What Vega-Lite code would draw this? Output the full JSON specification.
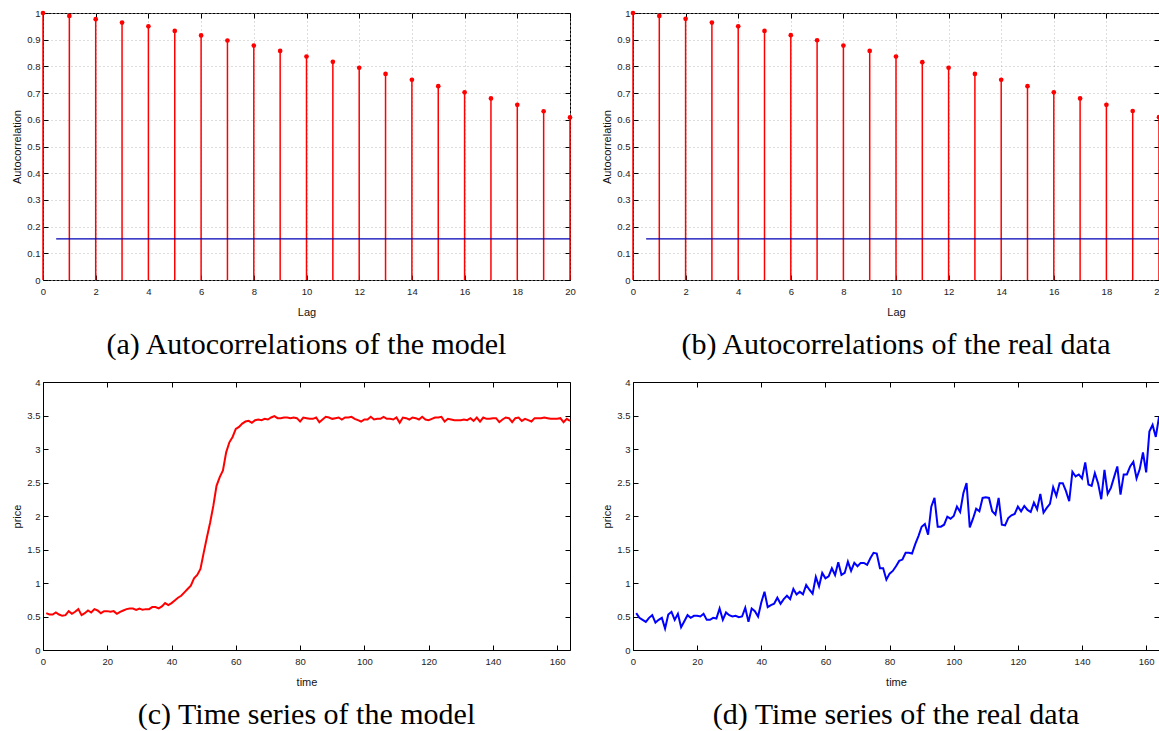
{
  "$schema": "https://vega.github.io/schema/vega-lite/v6.json",
  "background": "white",
  "padding": {"left": 11, "top": 7, "right": 0, "bottom": 0},
  "columns": 2,
  "spacing": {"row": 102, "column": 63},
  "bounds": "flush",
  "config": {
    "view": {"stroke": "black", "strokeWidth": 1},
    "axis": {
      "domain": false,
      "grid": false,
      "tickColor": "black",
      "tickSize": -5,
      "labelFont": "Liberation Sans",
      "labelFontSize": 9.5,
      "labelColor": "#222",
      "labelFlush": false,
      "labelOverlap": false,
      "titleFont": "Liberation Sans",
      "titleFontSize": 11,
      "titleFontWeight": "normal",
      "titleColor": "#111",
      "gridColor": "#bbbbbb",
      "gridDash": [1, 3]
    },
    "axisX": {"labelPadding": 11, "titlePadding": 11},
    "axisY": {"labelPadding": 8, "titlePadding": 4},
    "title": {"font": "Liberation Serif", "fontSize": 30, "fontWeight": "normal", "color": "#000", "orient": "bottom", "anchor": "middle", "offset": 12}
  },
  "datasets": {
    "acf_model": [
      {"lag": 0, "acf": 1.0}, {"lag": 1, "acf": 0.989}, {"lag": 2, "acf": 0.977}, {"lag": 3, "acf": 0.964},
      {"lag": 4, "acf": 0.950}, {"lag": 5, "acf": 0.933}, {"lag": 6, "acf": 0.916}, {"lag": 7, "acf": 0.897},
      {"lag": 8, "acf": 0.878}, {"lag": 9, "acf": 0.858}, {"lag": 10, "acf": 0.837}, {"lag": 11, "acf": 0.817},
      {"lag": 12, "acf": 0.795}, {"lag": 13, "acf": 0.772}, {"lag": 14, "acf": 0.750}, {"lag": 15, "acf": 0.726},
      {"lag": 16, "acf": 0.703}, {"lag": 17, "acf": 0.680}, {"lag": 18, "acf": 0.656}, {"lag": 19, "acf": 0.632},
      {"lag": 20, "acf": 0.609}
    ],
    "acf_real": [
      {"lag": 0, "acf": 1.0}, {"lag": 1, "acf": 0.989}, {"lag": 2, "acf": 0.978}, {"lag": 3, "acf": 0.964},
      {"lag": 4, "acf": 0.950}, {"lag": 5, "acf": 0.933}, {"lag": 6, "acf": 0.917}, {"lag": 7, "acf": 0.898},
      {"lag": 8, "acf": 0.878}, {"lag": 9, "acf": 0.858}, {"lag": 10, "acf": 0.837}, {"lag": 11, "acf": 0.816},
      {"lag": 12, "acf": 0.795}, {"lag": 13, "acf": 0.772}, {"lag": 14, "acf": 0.750}, {"lag": 15, "acf": 0.726},
      {"lag": 16, "acf": 0.703}, {"lag": 17, "acf": 0.680}, {"lag": 18, "acf": 0.656}, {"lag": 19, "acf": 0.633},
      {"lag": 20, "acf": 0.610}
    ],
    "bound": [{"from": 0.5, "to": 20, "level": 0.154}],
    "ts_model": [
      {"t":1,"p":0.55},{"t":2,"p":0.53},{"t":3,"p":0.53},{"t":4,"p":0.56},{"t":5,"p":0.53},{"t":6,"p":0.51},{"t":7,"p":0.52},{"t":8,"p":0.58},{"t":9,"p":0.54},{"t":10,"p":0.57},
      {"t":11,"p":0.61},{"t":12,"p":0.52},{"t":13,"p":0.55},{"t":14,"p":0.59},{"t":15,"p":0.56},{"t":16,"p":0.61},{"t":17,"p":0.59},{"t":18,"p":0.55},{"t":19,"p":0.58},{"t":20,"p":0.58},
      {"t":21,"p":0.57},{"t":22,"p":0.58},{"t":23,"p":0.54},{"t":24,"p":0.57},{"t":25,"p":0.59},{"t":26,"p":0.61},{"t":27,"p":0.62},{"t":28,"p":0.62},{"t":29,"p":0.60},{"t":30,"p":0.62},
      {"t":31,"p":0.60},{"t":32,"p":0.61},{"t":33,"p":0.61},{"t":34,"p":0.64},{"t":35,"p":0.64},{"t":36,"p":0.62},{"t":37,"p":0.65},{"t":38,"p":0.70},{"t":39,"p":0.67},{"t":40,"p":0.70},
      {"t":41,"p":0.74},{"t":42,"p":0.78},{"t":43,"p":0.81},{"t":44,"p":0.86},{"t":45,"p":0.91},{"t":46,"p":0.96},{"t":47,"p":1.07},{"t":48,"p":1.12},{"t":49,"p":1.21},{"t":50,"p":1.45},
      {"t":51,"p":1.68},{"t":52,"p":1.90},{"t":53,"p":2.15},{"t":54,"p":2.45},{"t":55,"p":2.58},{"t":56,"p":2.68},{"t":57,"p":2.95},{"t":58,"p":3.10},{"t":59,"p":3.18},{"t":60,"p":3.30},
      {"t":61,"p":3.33},{"t":62,"p":3.38},{"t":63,"p":3.41},{"t":64,"p":3.42},{"t":65,"p":3.39},{"t":66,"p":3.43},{"t":67,"p":3.44},{"t":68,"p":3.43},{"t":69,"p":3.45},{"t":70,"p":3.44},
      {"t":71,"p":3.47},{"t":72,"p":3.49},{"t":73,"p":3.46},{"t":74,"p":3.46},{"t":75,"p":3.47},{"t":76,"p":3.47},{"t":77,"p":3.46},{"t":78,"p":3.47},{"t":79,"p":3.46},{"t":80,"p":3.41},
      {"t":81,"p":3.47},{"t":82,"p":3.46},{"t":83,"p":3.45},{"t":84,"p":3.45},{"t":85,"p":3.47},{"t":86,"p":3.40},{"t":87,"p":3.44},{"t":88,"p":3.48},{"t":89,"p":3.47},{"t":90,"p":3.45},
      {"t":91,"p":3.46},{"t":92,"p":3.47},{"t":93,"p":3.44},{"t":94,"p":3.47},{"t":95,"p":3.47},{"t":96,"p":3.48},{"t":97,"p":3.45},{"t":98,"p":3.43},{"t":99,"p":3.41},{"t":100,"p":3.44},
      {"t":101,"p":3.44},{"t":102,"p":3.48},{"t":103,"p":3.44},{"t":104,"p":3.45},{"t":105,"p":3.45},{"t":106,"p":3.48},{"t":107,"p":3.45},{"t":108,"p":3.45},{"t":109,"p":3.44},{"t":110,"p":3.47},
      {"t":111,"p":3.39},{"t":112,"p":3.47},{"t":113,"p":3.46},{"t":114,"p":3.44},{"t":115,"p":3.47},{"t":116,"p":3.46},{"t":117,"p":3.44},{"t":118,"p":3.48},{"t":119,"p":3.44},{"t":120,"p":3.43},
      {"t":121,"p":3.45},{"t":122,"p":3.47},{"t":123,"p":3.47},{"t":124,"p":3.48},{"t":125,"p":3.41},{"t":126,"p":3.45},{"t":127,"p":3.44},{"t":128,"p":3.43},{"t":129,"p":3.43},{"t":130,"p":3.43},
      {"t":131,"p":3.44},{"t":132,"p":3.43},{"t":133,"p":3.46},{"t":134,"p":3.42},{"t":135,"p":3.47},{"t":136,"p":3.41},{"t":137,"p":3.47},{"t":138,"p":3.45},{"t":139,"p":3.45},{"t":140,"p":3.46},
      {"t":141,"p":3.46},{"t":142,"p":3.40},{"t":143,"p":3.44},{"t":144,"p":3.47},{"t":145,"p":3.46},{"t":146,"p":3.40},{"t":147,"p":3.46},{"t":148,"p":3.47},{"t":149,"p":3.42},{"t":150,"p":3.45},
      {"t":151,"p":3.43},{"t":152,"p":3.41},{"t":153,"p":3.46},{"t":154,"p":3.46},{"t":155,"p":3.46},{"t":156,"p":3.47},{"t":157,"p":3.46},{"t":158,"p":3.45},{"t":159,"p":3.45},{"t":160,"p":3.45},
      {"t":161,"p":3.46},{"t":162,"p":3.40},{"t":163,"p":3.45},{"t":164,"p":3.42}
    ],
    "ts_real": [
      {"t":1,"p":0.55},{"t":2,"p":0.48},{"t":3,"p":0.45},{"t":4,"p":0.42},{"t":5,"p":0.48},{"t":6,"p":0.52},{"t":7,"p":0.41},{"t":8,"p":0.45},{"t":9,"p":0.48},{"t":10,"p":0.32},
      {"t":11,"p":0.53},{"t":12,"p":0.57},{"t":13,"p":0.45},{"t":14,"p":0.54},{"t":15,"p":0.34},{"t":16,"p":0.43},{"t":17,"p":0.52},{"t":18,"p":0.48},{"t":19,"p":0.51},{"t":20,"p":0.51},
      {"t":21,"p":0.50},{"t":22,"p":0.54},{"t":23,"p":0.45},{"t":24,"p":0.45},{"t":25,"p":0.48},{"t":26,"p":0.47},{"t":27,"p":0.62},{"t":28,"p":0.45},{"t":29,"p":0.56},{"t":30,"p":0.52},
      {"t":31,"p":0.50},{"t":32,"p":0.51},{"t":33,"p":0.49},{"t":34,"p":0.50},{"t":35,"p":0.63},{"t":36,"p":0.42},{"t":37,"p":0.62},{"t":38,"p":0.58},{"t":39,"p":0.50},{"t":40,"p":0.71},
      {"t":41,"p":0.87},{"t":42,"p":0.64},{"t":43,"p":0.67},{"t":44,"p":0.69},{"t":45,"p":0.78},{"t":46,"p":0.69},{"t":47,"p":0.76},{"t":48,"p":0.81},{"t":49,"p":0.76},{"t":50,"p":0.91},
      {"t":51,"p":0.83},{"t":52,"p":0.87},{"t":53,"p":0.83},{"t":54,"p":0.97},{"t":55,"p":0.90},{"t":56,"p":0.84},{"t":57,"p":1.09},{"t":58,"p":0.95},{"t":59,"p":1.15},{"t":60,"p":1.07},
      {"t":61,"p":1.10},{"t":62,"p":1.22},{"t":63,"p":1.12},{"t":64,"p":1.31},{"t":65,"p":1.12},{"t":66,"p":1.15},{"t":67,"p":1.32},{"t":68,"p":1.18},{"t":69,"p":1.30},{"t":70,"p":1.25},
      {"t":71,"p":1.30},{"t":72,"p":1.30},{"t":73,"p":1.27},{"t":74,"p":1.37},{"t":75,"p":1.45},{"t":76,"p":1.44},{"t":77,"p":1.22},{"t":78,"p":1.22},{"t":79,"p":1.05},{"t":80,"p":1.14},
      {"t":81,"p":1.18},{"t":82,"p":1.25},{"t":83,"p":1.33},{"t":84,"p":1.35},{"t":85,"p":1.45},{"t":86,"p":1.45},{"t":87,"p":1.44},{"t":88,"p":1.58},{"t":89,"p":1.70},{"t":90,"p":1.84},
      {"t":91,"p":1.88},{"t":92,"p":1.72},{"t":93,"p":2.14},{"t":94,"p":2.27},{"t":95,"p":1.84},{"t":96,"p":1.84},{"t":97,"p":1.87},{"t":98,"p":1.99},{"t":99,"p":1.96},{"t":100,"p":2.00},
      {"t":101,"p":2.14},{"t":102,"p":2.06},{"t":103,"p":2.34},{"t":104,"p":2.49},{"t":105,"p":1.83},{"t":106,"p":1.96},{"t":107,"p":2.11},{"t":108,"p":2.07},{"t":109,"p":2.27},{"t":110,"p":2.28},
      {"t":111,"p":2.27},{"t":112,"p":2.07},{"t":113,"p":2.02},{"t":114,"p":2.27},{"t":115,"p":1.87},{"t":116,"p":1.86},{"t":117,"p":1.97},{"t":118,"p":2.01},{"t":119,"p":2.03},{"t":120,"p":2.14},
      {"t":121,"p":2.07},{"t":122,"p":2.15},{"t":123,"p":2.09},{"t":124,"p":2.06},{"t":125,"p":2.20},{"t":126,"p":2.10},{"t":127,"p":2.33},{"t":128,"p":2.05},{"t":129,"p":2.12},{"t":130,"p":2.18},
      {"t":131,"p":2.43},{"t":132,"p":2.30},{"t":133,"p":2.49},{"t":134,"p":2.49},{"t":135,"p":2.37},{"t":136,"p":2.22},{"t":137,"p":2.66},{"t":138,"p":2.59},{"t":139,"p":2.62},{"t":140,"p":2.56},
      {"t":141,"p":2.80},{"t":142,"p":2.47},{"t":143,"p":2.45},{"t":144,"p":2.64},{"t":145,"p":2.49},{"t":146,"p":2.25},{"t":147,"p":2.69},{"t":148,"p":2.33},{"t":149,"p":2.42},{"t":150,"p":2.58},
      {"t":151,"p":2.74},{"t":152,"p":2.32},{"t":153,"p":2.62},{"t":154,"p":2.62},{"t":155,"p":2.74},{"t":156,"p":2.81},{"t":157,"p":2.56},{"t":158,"p":2.70},{"t":159,"p":2.95},{"t":160,"p":2.65},
      {"t":161,"p":3.26},{"t":162,"p":3.36},{"t":163,"p":3.18},{"t":164,"p":3.48}
    ]
  },
  "concat": [
    {
      "width": 527, "height": 267,
      "title": {"text": "(a) Autocorrelations of the model"},
      "data": {"name": "acf_model"},
      "layer": [
        {"mark": {"type": "rule", "color": "#ff0000", "strokeWidth": 1.5},
         "encoding": {
           "x": {"field": "lag", "type": "quantitative", "scale": {"domain": [0, 20], "nice": false}, "axis": {"values": [0,2,4,6,8,10,12,14,16,18,20], "grid": true, "title": "Lag"}},
           "y": {"field": "acf", "type": "quantitative", "scale": {"domain": [0, 1], "nice": false}, "axis": {"values": [0,0.1,0.2,0.3,0.4,0.5,0.6,0.7,0.8,0.9,1], "format": "~g", "grid": true, "title": "Autocorrelation"}},
           "y2": {"datum": 0}}},
        {"mark": {"type": "point", "filled": true, "color": "#ff0000", "size": 22, "opacity": 1},
         "encoding": {"x": {"field": "lag", "type": "quantitative", "axis": null}, "y": {"field": "acf", "type": "quantitative", "axis": null}}},
        {"data": {"name": "bound"}, "mark": {"type": "rule", "color": "#0000b4", "strokeWidth": 1.1},
         "encoding": {"x": {"field": "from", "type": "quantitative", "axis": null}, "x2": {"field": "to"}, "y": {"field": "level", "type": "quantitative", "axis": null}}},
        {"mark": {"type": "point", "opacity": 0},
         "encoding": {
           "x": {"field": "lag", "type": "quantitative", "axis": {"orient": "top", "values": [0,2,4,6,8,10,12,14,16,18,20], "labels": false, "title": null}},
           "y": {"field": "acf", "type": "quantitative", "axis": {"orient": "right", "values": [0,0.1,0.2,0.3,0.4,0.5,0.6,0.7,0.8,0.9,1], "labels": false, "title": null}}}}
      ],
      "resolve": {"axis": {"x": "independent", "y": "independent"}}
    },
    {
      "width": 526, "height": 267,
      "title": {"text": "(b) Autocorrelations of the real data"},
      "data": {"name": "acf_real"},
      "layer": [
        {"mark": {"type": "rule", "color": "#ff0000", "strokeWidth": 1.5},
         "encoding": {
           "x": {"field": "lag", "type": "quantitative", "scale": {"domain": [0, 20], "nice": false}, "axis": {"values": [0,2,4,6,8,10,12,14,16,18,20], "grid": true, "title": "Lag"}},
           "y": {"field": "acf", "type": "quantitative", "scale": {"domain": [0, 1], "nice": false}, "axis": {"values": [0,0.1,0.2,0.3,0.4,0.5,0.6,0.7,0.8,0.9,1], "format": "~g", "grid": true, "title": "Autocorrelation"}},
           "y2": {"datum": 0}}},
        {"mark": {"type": "point", "filled": true, "color": "#ff0000", "size": 22, "opacity": 1},
         "encoding": {"x": {"field": "lag", "type": "quantitative", "axis": null}, "y": {"field": "acf", "type": "quantitative", "axis": null}}},
        {"data": {"name": "bound"}, "mark": {"type": "rule", "color": "#0000b4", "strokeWidth": 1.1},
         "encoding": {"x": {"field": "from", "type": "quantitative", "axis": null}, "x2": {"field": "to"}, "y": {"field": "level", "type": "quantitative", "axis": null}}},
        {"mark": {"type": "point", "opacity": 0},
         "encoding": {
           "x": {"field": "lag", "type": "quantitative", "axis": {"orient": "top", "values": [0,2,4,6,8,10,12,14,16,18,20], "labels": false, "title": null}},
           "y": {"field": "acf", "type": "quantitative", "axis": {"orient": "right", "values": [0,0.1,0.2,0.3,0.4,0.5,0.6,0.7,0.8,0.9,1], "labels": false, "title": null}}}}
      ],
      "resolve": {"axis": {"x": "independent", "y": "independent"}}
    },
    {
      "width": 527, "height": 268,
      "title": {"text": "(c) Time series of the model"},
      "data": {"name": "ts_model"},
      "layer": [
        {"mark": {"type": "line", "color": "#ff0000", "strokeWidth": 2},
         "encoding": {
           "x": {"field": "t", "type": "quantitative", "scale": {"domain": [0, 164], "nice": false}, "axis": {"values": [0,20,40,60,80,100,120,140,160], "title": "time"}},
           "y": {"field": "p", "type": "quantitative", "scale": {"domain": [0, 4], "nice": false}, "axis": {"values": [0,0.5,1,1.5,2,2.5,3,3.5,4], "format": "~g", "title": "price"}}}},
        {"mark": {"type": "point", "opacity": 0},
         "encoding": {
           "x": {"field": "t", "type": "quantitative", "axis": {"orient": "top", "values": [0,20,40,60,80,100,120,140,160], "labels": false, "title": null}},
           "y": {"field": "p", "type": "quantitative", "axis": {"orient": "right", "values": [0,0.5,1,1.5,2,2.5,3,3.5,4], "labels": false, "title": null}}}}
      ],
      "resolve": {"axis": {"x": "independent", "y": "independent"}}
    },
    {
      "width": 526, "height": 268,
      "title": {"text": "(d) Time series of the real data"},
      "data": {"name": "ts_real"},
      "layer": [
        {"mark": {"type": "line", "color": "#0000ff", "strokeWidth": 2},
         "encoding": {
           "x": {"field": "t", "type": "quantitative", "scale": {"domain": [0, 164], "nice": false}, "axis": {"values": [0,20,40,60,80,100,120,140,160], "title": "time"}},
           "y": {"field": "p", "type": "quantitative", "scale": {"domain": [0, 4], "nice": false}, "axis": {"values": [0,0.5,1,1.5,2,2.5,3,3.5,4], "format": "~g", "title": "price"}}}},
        {"mark": {"type": "point", "opacity": 0},
         "encoding": {
           "x": {"field": "t", "type": "quantitative", "axis": {"orient": "top", "values": [0,20,40,60,80,100,120,140,160], "labels": false, "title": null}},
           "y": {"field": "p", "type": "quantitative", "axis": {"orient": "right", "values": [0,0.5,1,1.5,2,2.5,3,3.5,4], "labels": false, "title": null}}}}
      ],
      "resolve": {"axis": {"x": "independent", "y": "independent"}}
    }
  ]
}
